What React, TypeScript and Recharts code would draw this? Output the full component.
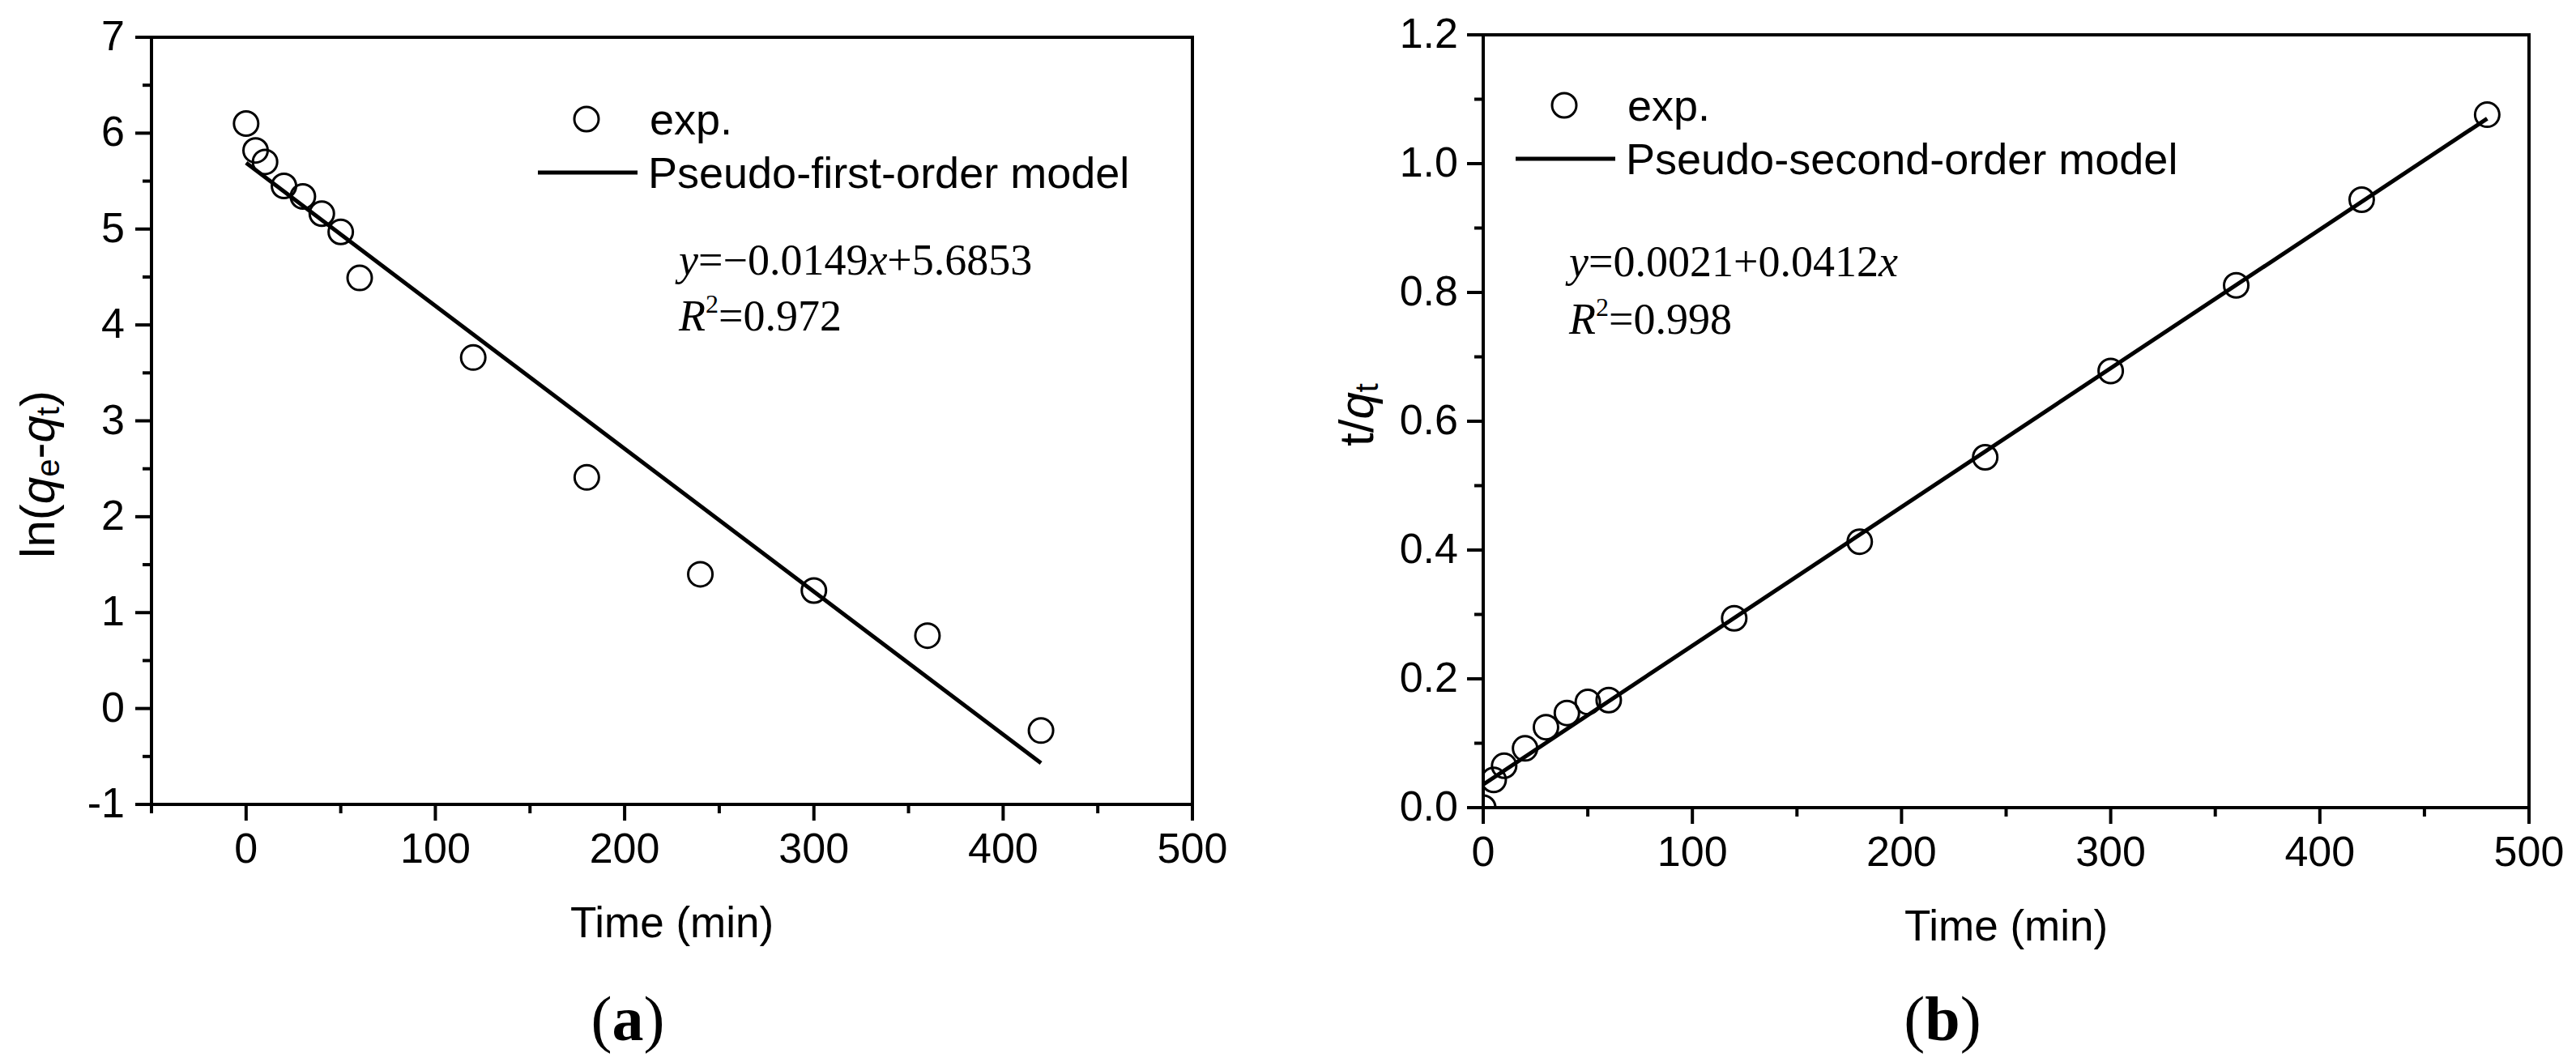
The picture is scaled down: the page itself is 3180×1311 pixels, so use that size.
import React from 'react';
import { ComposedChart, Scatter, Line, XAxis, YAxis, ReferenceArea, Legend } from 'recharts';

// (a) pseudo-first-order: ln(qe - qt) vs time
const timeA = [0, 5, 10, 20, 30, 40, 50, 60, 120, 180, 240, 300, 360, 420];
const lnQeQt = [6.1, 5.82, 5.7, 5.45, 5.34, 5.16, 4.97, 4.49, 3.66, 2.41, 1.4, 1.23, 0.76, -0.23];
const fitTimeA = [0, 420];
const fitValueA = [5.69, -0.57];

// (b) pseudo-second-order: t/qt vs time
const timeB = [0, 5, 10, 20, 30, 40, 50, 60, 120, 180, 240, 300, 360, 420, 480];
const tOverQt = [0, 0.043, 0.065, 0.092, 0.125, 0.147, 0.164, 0.167, 0.294, 0.413, 0.544, 0.678, 0.811, 0.944, 1.076];
const fitTimeB = [0, 480];
const fitValueB = [0.036, 1.07];

const xTicksA = [-50, 0, 50, 100, 150, 200, 250, 300, 350, 400, 450, 500];
const yTicksA = [-1, -0.5, 0, 0.5, 1, 1.5, 2, 2.5, 3, 3.5, 4, 4.5, 5, 5.5, 6, 6.5, 7];
const xTicksB = [0, 50, 100, 150, 200, 250, 300, 350, 400, 450, 500];
const yTicksB = [0, 0.1, 0.2, 0.3, 0.4, 0.5, 0.6, 0.7, 0.8, 0.9, 1.0, 1.1, 1.2];

const SANS = '"Liberation Sans", Arial, sans-serif';
const SERIF = '"Liberation Serif", "Times New Roman", serif';

const pointsA = timeA.map((x, i) => ({ x, y: lnQeQt[i] }));
const lineA = fitTimeA.map((x, i) => ({ x, y: fitValueA[i] }));
const pointsB = timeB.map((x, i) => ({ x, y: tOverQt[i] }));
const lineB = fitTimeB.map((x, i) => ({ x, y: fitValueB[i] }));

const isMajorX = (v: number) => v % 100 === 0;
const isMajorYA = (v: number) => Number.isInteger(v);
const isMajorYB = (v: number) => Math.round(v * 10) % 2 === 0;

function BottomTick(props: any) {
  const { x, y, payload } = props;
  const major = isMajorX(payload.value);
  return (
    <g>
      <line x1={x} y1={y} x2={x} y2={y + (major ? 20 : 11)} stroke="#000" strokeWidth={4} />
      {major && (
        <text x={x} y={y + 54} textAnchor="middle" dominantBaseline="central" fontSize={52} fontFamily={SANS} fill="#000">
          {payload.value}
        </text>
      )}
    </g>
  );
}

function leftTick(isMajor: (v: number) => boolean, fmt: (v: number) => string, gap: number) {
  return (props: any) => {
    const { x, y, payload } = props;
    const major = isMajor(payload.value);
    return (
      <g>
        <line x1={x} y1={y} x2={x - (major ? 20 : 11)} y2={y} stroke="#000" strokeWidth={4} />
        {major && (
          <text x={x - gap} y={y - 2} textAnchor="end" dominantBaseline="central" fontSize={52} fontFamily={SANS} fill="#000">
            {fmt(payload.value)}
          </text>
        )}
      </g>
    );
  };
}

const Circle = (props: any) => (
  <circle cx={props.cx} cy={props.cy} r={15} fill="none" stroke="#000" strokeWidth={3} />
);

function LegendBox({ label }: { label: string }) {
  return (
    <svg width={900} height={140} style={{ display: 'block' }}>
      <circle cx={80} cy={40} r={15} fill="none" stroke="#000" strokeWidth={3} />
      <text x={158} y={40} dominantBaseline="central" fontSize={54} fontFamily={SANS}>exp.</text>
      <line x1={20} y1={106} x2={143} y2={106} stroke="#000" strokeWidth={5} />
      <text x={156} y={106} dominantBaseline="central" fontSize={54} fontFamily={SANS}>{label}</text>
    </svg>
  );
}

function Panel(props: {
  left: number;
  margin: { top: number; right: number; left: number; bottom: number };
  points: { x: number; y: number }[];
  fit: { x: number; y: number }[];
  xDomain: [number, number];
  yDomain: [number, number];
  xTicks: number[];
  yTicks: number[];
  yTick: (p: any) => React.ReactElement;
  yLabel: React.ReactNode;
  yLabelX: number;
  yLabelShift: number;
  legendLabel: string;
  legendPos: { left: number; top: number };
  clip: boolean;
}) {
  const p = props;
  return (
    <div style={{ position: 'absolute', left: p.left, top: 0 }}>
      <ComposedChart width={1590} height={1311} margin={p.margin}>
        <XAxis
          type="number"
          dataKey="x"
          domain={p.xDomain}
          ticks={p.xTicks}
          interval={0}
          allowDataOverflow={p.clip}
          axisLine={false}
          tickLine={false}
          tickSize={0}
          tickMargin={0}
          height={110}
          tick={BottomTick}
          label={{
            content: (lp: any) => {
              const vb = lp.viewBox;
              return (
                <text x={vb.x + vb.width / 2} y={vb.y + 145} textAnchor="middle" dominantBaseline="central" fontSize={53} fontFamily={SANS}>
                  Time (min)
                </text>
              );
            },
          }}
        />
        <YAxis
          type="number"
          dataKey="y"
          domain={p.yDomain}
          ticks={p.yTicks}
          interval={0}
          allowDataOverflow={p.clip}
          axisLine={false}
          tickLine={false}
          tickSize={0}
          tickMargin={0}
          width={110}
          tick={p.yTick}
          label={{
            content: (lp: any) => {
              const vb = lp.viewBox;
              const cy = vb.y + vb.height / 2 + p.yLabelShift;
              return (
                <text transform={`translate(${p.yLabelX},${cy}) rotate(-90)`} textAnchor="middle" dominantBaseline="central" fontSize={60} fontFamily={SANS}>
                  {p.yLabel}
                </text>
              );
            },
          }}
        />
        <Line data={p.fit} dataKey="y" type="linear" stroke="#000" strokeWidth={5} dot={false} legendType="none" isAnimationActive={false} />
        <Scatter data={p.points} dataKey="y" shape={Circle} isAnimationActive={false} />
        <ReferenceArea
          x1={p.xDomain[0]}
          x2={p.xDomain[1]}
          y1={p.yDomain[0]}
          y2={p.yDomain[1]}
          fill="none"
          fillOpacity={0}
          stroke="#000"
          strokeWidth={4}
          ifOverflow="visible"
        />
        <Legend
          layout="vertical"
          align="center"
          verticalAlign="middle"
          wrapperStyle={{ left: p.legendPos.left, top: p.legendPos.top, width: 900, height: 140 }}
          content={() => <LegendBox label={p.legendLabel} />}
        />
      </ComposedChart>
    </div>
  );
}

export default function App() {
  return (
    <div style={{ position: 'absolute', left: 0, top: 0, width: 3180, height: 1311, background: '#fff', overflow: 'hidden' }}>
      <Panel
        left={0}
        margin={{ top: 46, right: 118, left: 77, bottom: 208 }}
        points={pointsA}
        fit={lineA}
        xDomain={[-50, 500]}
        yDomain={[-1, 7]}
        xTicks={xTicksA}
        yTicks={yTicksA}
        yTick={leftTick(isMajorYA, (v) => String(v), 33)}
        yLabel={
          <>
            ln(<tspan fontStyle="italic">q</tspan>
            <tspan dy={13} fontSize={40}>e</tspan>
            <tspan dy={-13}>-</tspan>
            <tspan fontStyle="italic">q</tspan>
            <tspan dy={13} fontSize={40}>t</tspan>
            <tspan dy={-13}>)</tspan>
          </>
        }
        yLabelX={46}
        yLabelShift={66}
        legendLabel="Pseudo-first-order model"
        legendPos={{ left: 644, top: 107 }}
        clip={false}
      />
      <Panel
        left={1590}
        margin={{ top: 43, right: 58, left: 131, bottom: 204 }}
        points={pointsB}
        fit={lineB}
        xDomain={[0, 500]}
        yDomain={[0, 1.2]}
        xTicks={xTicksB}
        yTicks={yTicksB}
        yTick={leftTick(isMajorYB, (v) => v.toFixed(1), 31)}
        yLabel={
          <>
            t/<tspan fontStyle="italic">q</tspan>
            <tspan dy={13} fontSize={40}>t</tspan>
          </>
        }
        yLabelX={84}
        yLabelShift={-8}
        legendLabel="Pseudo-second-order model"
        legendPos={{ left: 261, top: 90 }}
        clip={true}
      />
      <div style={{ position: 'absolute', left: 838, top: 287, fontFamily: SERIF, fontSize: 54, lineHeight: '69px', whiteSpace: 'nowrap' }}>
        <div><i>y</i>=−0.0149<i>x</i>+5.6853</div>
        <div><i>R</i><span style={{ fontSize: 32, position: 'relative', top: -22 }}>2</span>=0.972</div>
      </div>
      <div style={{ position: 'absolute', left: 1937, top: 288, fontFamily: SERIF, fontSize: 54, lineHeight: '71px', whiteSpace: 'nowrap' }}>
        <div><i>y</i>=0.0021+0.0412<i>x</i></div>
        <div><i>R</i><span style={{ fontSize: 32, position: 'relative', top: -22 }}>2</span>=0.998</div>
      </div>
      <div style={{ position: 'absolute', left: 775, top: 1258, transform: 'translate(-50%, -50%)', fontFamily: SERIF, fontSize: 78, lineHeight: '90px', whiteSpace: 'nowrap' }}>
        (<b>a</b>)
      </div>
      <div style={{ position: 'absolute', left: 2398, top: 1258, transform: 'translate(-50%, -50%)', fontFamily: SERIF, fontSize: 78, lineHeight: '90px', whiteSpace: 'nowrap' }}>
        (<b>b</b>)
      </div>
    </div>
  );
}
